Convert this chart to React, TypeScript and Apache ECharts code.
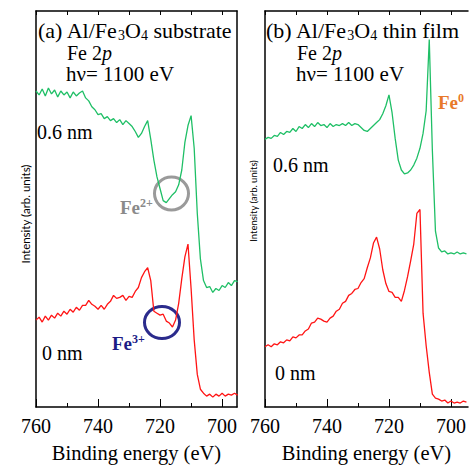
import React, { useEffect, useRef } from "react";
import * as echarts from "echarts";

const energies = [
  760, 759, 758, 757, 756, 755, 754, 753, 752, 751, 750, 749, 748, 747, 746, 745, 744, 743, 742, 741,
  740, 739, 738, 737, 736, 735, 734, 733, 732, 731, 730, 729, 728, 727, 726, 725, 724, 723, 722, 721,
  720, 719, 718, 717, 716, 715, 714, 713, 712, 711, 710, 709, 708, 707, 706, 705, 704, 703, 702, 701,
  700, 699, 698, 697, 696, 695,
];

// (a) Al/Fe3O4 substrate
const substrate06nm = [
  320, 316, 322, 315, 323, 317, 321, 314, 320, 316, 319, 313, 319, 315, 318, 320, 313, 310, 304, 301,
  296, 297, 292, 294, 290, 292, 288, 291, 286, 290, 287, 284, 279, 273, 277, 284, 290, 271, 250, 233,
  221, 209, 207, 211, 215, 218, 225, 240, 268, 285, 295, 262, 196, 150, 128, 121, 122, 116, 120, 118,
  123, 121, 126, 123, 128, 127,
];
const substrate0nm = [
  88, 91, 86, 92, 88, 93, 90, 95, 92, 97, 94, 99, 96, 101, 98, 103, 103, 108, 104, 102,
  99, 103, 99, 104, 107, 113, 110, 111, 113, 108, 112, 111, 117, 121, 131, 137, 141, 128, 97, 95,
  93, 94, 87, 85, 81, 88, 105, 130, 152, 165, 120, 68, 33, 18, 14, 11, 13, 10, 13, 11,
  14, 11, 13, 12, 14, 12,
];

// (b) Al/Fe3O4 thin film
const film06nm = [
  271, 273, 272, 275, 274, 278, 276, 279, 278, 282, 279, 284, 282, 286, 283, 287, 284, 288, 285, 286,
  283, 287, 284, 286, 285, 287, 285, 288, 285, 287, 286, 283, 280, 279, 282, 285, 288, 291, 297, 305,
  316, 298, 272, 250, 240, 236, 237, 240, 245, 252, 262, 277, 300, 372, 260, 178, 161, 157, 158, 155,
  156, 155, 157, 155, 156, 155,
];
const film0nm = [
  61, 63, 61, 64, 63, 66, 65, 68, 67, 71, 70, 73, 73, 77, 79, 85, 86, 90, 89, 87,
  86, 90, 92, 97, 99, 105, 107, 113, 115, 119, 120, 126, 130, 141, 151, 166, 172, 160, 139, 125,
  117, 116, 111, 111, 107, 118, 132, 148, 165, 196, 200, 95, 62, 35, 13, 9, 8, 6, 7, 4,
  6, 4, 5, 4, 6, 5,
];

const majorTicks = [760, 740, 720, 700];
const minorTicks = [750, 730, 710];
const allTicks = [760, 750, 740, 730, 720, 710, 700];

const GREEN = "#1fbf66";
const RED = "#ff1414";
const SERIF = "Liberation Serif";
const SANS = "Lato";

const pairs = (vals: number[]) => energies.map((e, i) => [e, vals[i]]);

function xAxes(gridIndex: number, min: number) {
  return [
    {
      type: "value", gridIndex, min, max: 760, inverse: true, position: "bottom",
      axisLine: { show: true, lineStyle: { color: "#000", width: 1.5 } },
      axisTick: { show: true, inside: true, length: 8, customValues: majorTicks, lineStyle: { color: "#000", width: 1 } },
      axisLabel: { show: true, customValues: majorTicks, margin: 9, fontSize: 20, fontFamily: SERIF, color: "#000" },
      splitLine: { show: false },
      name: "Binding energy (eV)", nameLocation: "middle", nameGap: 35,
      nameTextStyle: { fontSize: 20.5, fontFamily: SERIF, color: "#000" },
    },
    {
      type: "value", gridIndex, min, max: 760, inverse: true, position: "bottom",
      axisLine: { show: false },
      axisTick: { show: true, inside: true, length: 4, customValues: minorTicks, lineStyle: { color: "#000", width: 1 } },
      axisLabel: { show: false },
      splitLine: { show: false },
    },
    {
      type: "value", gridIndex, min, max: 760, inverse: true, position: "top",
      axisLine: { show: true, lineStyle: { color: "#000", width: 1.5 } },
      axisTick: { show: true, inside: true, length: 4, customValues: allTicks, lineStyle: { color: "#000", width: 1 } },
      axisLabel: { show: false },
      splitLine: { show: false },
    },
  ];
}

function yAxes(gridIndex: number, withRight: boolean) {
  const base = {
    type: "value", gridIndex, min: 0, max: 401,
    axisTick: { show: false }, axisLabel: { show: false }, splitLine: { show: false },
  };
  const arr: any[] = [
    { ...base, position: "left", axisLine: { show: true, onZero: false, lineStyle: { color: "#000", width: 1.5 } } },
  ];
  if (withRight) {
    arr.push({ ...base, position: "right", axisLine: { show: true, onZero: false, lineStyle: { color: "#000", width: 1.5 } } });
  }
  return arr;
}

const mainRich = (size: number) => ({
  m: { fontSize: size, fontFamily: SERIF, fill: "#000", lineHeight: size - 3 },
  s: { fontSize: Math.round(size * 0.65), fontFamily: SERIF, fill: "#000", lineHeight: 6, padding: [10, 0, 0, 0] },
  i: { fontSize: size, fontFamily: SERIF, fill: "#000", fontStyle: "italic", lineHeight: size - 3 },
});

function label(x: number, y: number, text: string, size: number) {
  return {
    type: "text", x, y, silent: true,
    style: {
      text, rich: mainRich(size), fontSize: size, fontFamily: SERIF, fill: "#000",
      align: "left", verticalAlign: "middle",
    },
  };
}

function ionLabel(x: number, y: number, base: string, sup: string, color: string) {
  return {
    type: "text", x, y, silent: true,
    style: {
      text: `{b|${base}}{u|${sup}}`,
      fill: color,
      rich: {
        b: { fontSize: 19, fontWeight: "bold", fontFamily: SERIF, fill: color, lineHeight: 20 },
        u: { fontSize: 12, fontWeight: "bold", fontFamily: SERIF, fill: color, lineHeight: 12, verticalAlign: "top" },
      },
      align: "left", verticalAlign: "middle",
    },
  };
}

export default function App() {
  const ref = useRef<HTMLDivElement>(null);
  useEffect(() => {
    if (!ref.current) return;
    const chart = echarts.init(ref.current, null, { renderer: "svg" });
    const option: any = {
      animation: false,
      backgroundColor: "#fff",
      textStyle: { fontFamily: SERIF },
      grid: [
        { left: 36, top: 11, width: 201, height: 401 },
        { left: 265, top: 11, width: 203, height: 401 },
      ],
      xAxis: [...xAxes(0, 695.2), ...xAxes(1, 694.5)],
      yAxis: [...yAxes(0, true), ...yAxes(1, false)],
      series: [
        { name: "(a) 0.6 nm", type: "line", xAxisIndex: 0, yAxisIndex: 0, data: pairs(substrate06nm), showSymbol: false, lineStyle: { color: GREEN, width: 1.3 }, itemStyle: { color: GREEN } },
        { name: "(a) 0 nm", type: "line", xAxisIndex: 0, yAxisIndex: 0, data: pairs(substrate0nm), showSymbol: false, lineStyle: { color: RED, width: 1.3 }, itemStyle: { color: RED } },
        { name: "(b) 0.6 nm", type: "line", xAxisIndex: 3, yAxisIndex: 2, data: pairs(film06nm), showSymbol: false, lineStyle: { color: GREEN, width: 1.3 }, itemStyle: { color: GREEN } },
        { name: "(b) 0 nm", type: "line", xAxisIndex: 3, yAxisIndex: 2, data: pairs(film0nm), showSymbol: false, lineStyle: { color: RED, width: 1.3 }, itemStyle: { color: RED } },
      ],
      graphic: [
        label(38, 30, "{m|(a) Al/Fe}{s|3}{m|O}{s|4}{m| substrate}", 22),
        label(67, 53, "{m|Fe 2}{i|p}", 20),
        label(66, 74, "{m|hν= 1100 eV}", 21),
        label(266, 30, "{m|(b) Al/Fe}{s|3}{m|O}{s|4}{m| thin film}", 22),
        label(297, 53, "{m|Fe 2}{i|p}", 20),
        label(296, 74, "{m|hν= 1100 eV}", 21),
        label(37, 132, "{m|0.6 nm}", 20),
        label(42, 353, "{m|0 nm}", 20),
        label(273, 165, "{m|0.6 nm}", 20),
        label(275, 373, "{m|0 nm}", 20),
        {
          type: "text", x: 25, y: 214, rotation: Math.PI / 2, silent: true,
          style: { text: "Intensity (arb. units)", fontSize: 11.5, fontFamily: SANS, fill: "#000", align: "center", verticalAlign: "middle" },
        },
        {
          type: "text", x: 253, y: 201, rotation: Math.PI / 2, silent: true,
          style: { text: "Intensity (arb. units)", fontSize: 9.5, fontFamily: SANS, fill: "#000", align: "center", verticalAlign: "middle" },
        },
        ionLabel(120, 207, "Fe", "2+", "#8a8a8a"),
        ionLabel(112, 343, "Fe", "3+", "#1c1c86"),
        ionLabel(438, 102, "Fe", "0", "#e8792a"),
        {
          type: "ellipse", silent: true,
          shape: { cx: 171.5, cy: 193.5, rx: 17, ry: 16.5 },
          style: { fill: "none", stroke: "#9a9a9a", lineWidth: 3 },
        },
        {
          type: "ellipse", silent: true,
          shape: { cx: 162, cy: 322.5, rx: 17.5, ry: 16 },
          style: { fill: "none", stroke: "#2b2b8c", lineWidth: 3 },
        },
      ],
    };
    chart.setOption(option);
    return () => chart.dispose();
  }, []);
  return <div ref={ref} style={{ position: "absolute", left: 0, top: 0, width: 473, height: 468 }} />;
}
